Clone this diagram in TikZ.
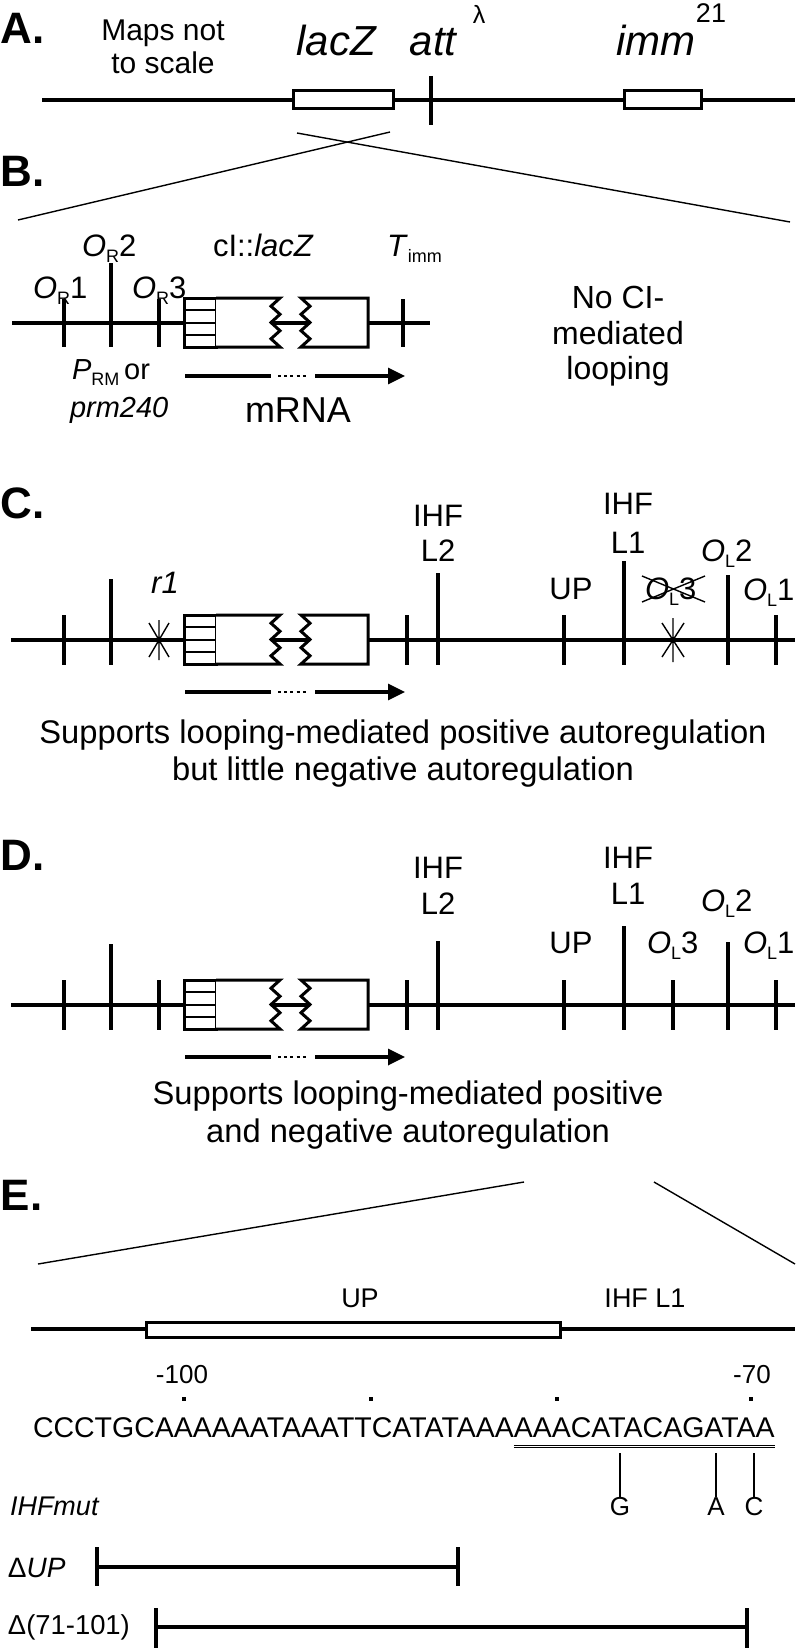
\documentclass[tikz,border=0pt]{standalone}
\usepackage{fontspec}
\setmainfont{Liberation Sans}
\usetikzlibrary{arrows.meta}
\newcommand\sbs[1]{\raisebox{-0.22em}{\fontsize{18}{18}\selectfont #1}}
\newcommand\opsite[2]{\textit{O}\sbs{#1}#2}
\begin{document}
\begin{tikzpicture}[x=1pt,y=-1pt,
  dna/.style={line width=3.2pt},
  tk/.style={line width=3.1pt},
  thinl/.style={line width=1.4pt},
  boxl/.style={line width=3pt, fill=white},
  dotl/.style={line width=2.6pt, dash pattern=on 3pt off 3.2pt},
  arr/.style={line width=3.3pt},
  lbl/.style={inner sep=0pt, outer sep=0pt, font=\fontsize{31}{36}\selectfont},
  capt/.style={inner sep=0pt, outer sep=0pt, anchor=base, font=\fontsize{32.7}{38}\selectfont},
  panel/.style={inner sep=0pt, outer sep=0pt, anchor=base west, font=\bfseries\fontsize{44}{44}\selectfont},
  big/.style={inner sep=0pt, outer sep=0pt, anchor=base, font=\itshape\fontsize{42}{42}\selectfont}
]
\useasboundingbox[fill=white] (0,0) rectangle (798,1648);

% ---------------- A ----------------
\node[panel] (pA) at (1,44) {A.};
\node[lbl, anchor=base, font=\fontsize{30}{34}\selectfont] (maps1) at (163,41) {Maps not};
\node[lbl, anchor=base, font=\fontsize{30}{34}\selectfont] (maps2) at (163,74) {to scale};
\node[big] (lacz) at (336,56) {lacZ};
\node[big] (att) at (433,56) {att};
\node[lbl, font=\fontsize{25}{25}\selectfont] (lam) at (479,14) {λ};
\node[big] (imm) at (656,56) {imm};
\node[lbl, anchor=base, font=\fontsize{27}{27}\selectfont] (s21) at (711,23) {21};
\coordinate (aL) at (42,100); \coordinate (aR) at (795,100);
\draw[dna] (aL) -- (aR);
\draw[boxl] (293,91) rectangle (393,109);
\draw[boxl] (624,91) rectangle (701,109);
\draw[tk] (431,76) -- (431,125);
\coordinate (z1a) at (297,133); \coordinate (z1b) at (790,222);
\coordinate (z2a) at (390,132); \coordinate (z2b) at (18,220);
\draw[thinl] (z1a) -- (z1b);
\draw[thinl] (z2a) -- (z2b);

% ---------------- B ----------------
\node[panel] (pB) at (1,186) {B.};
\begin{scope}[shift={(0,323)}]
  \draw[dna] (12,0) -- (430,0);
  \draw[tk] (64,-24) -- (64,24) (111,-60) -- (111,24) (159,-24) -- (159,24) (403,-24) -- (403,24);
  \draw[boxl] (184,-25) rectangle (216,24);
  \draw[line width=1.8pt] (184,-13) -- (216,-13) (184,0) -- (216,0) (184,12) -- (216,12);
  \draw[boxl] (216,-25) -- (280,-25) -- (271,-16.8) -- (280,-8.7) -- (271,-0.5) -- (280,7.7) -- (271,15.8) -- (280,24) -- (216,24);
  \draw[boxl] (368,-25) -- (301,-25) -- (310,-16.8) -- (301,-8.7) -- (310,-0.5) -- (301,7.7) -- (310,15.8) -- (301,24) -- (368,24) -- cycle;
  \draw[dotl] (282,0) -- (300,0);
  \draw[arr] (185,53) -- (271,53);
  \draw[dotl] (278,53) -- (308,53);
  \draw[arr, -{Triangle[length=17pt,width=16pt]}] (315,53) -- (405,53);
\end{scope}
\node[lbl, anchor=base west] (or1) at (33,298) {\opsite{R}{1}};
\node[lbl, anchor=base west] (or2) at (82,256) {\opsite{R}{2}};
\node[lbl, anchor=base west] (or3) at (132,298) {\opsite{R}{3}};
\node[lbl, anchor=base west] (cil) at (213,256) {cI::\textit{lacZ}};
\node[lbl, anchor=base west] (timm) at (387,256) {\textit{T}\sbs{imm}};
\node[lbl, anchor=base west, font=\fontsize{29}{34}\selectfont] (prm1) at (72,379) {\textit{P}\sbs{RM}\,or};
\node[lbl, anchor=base west, font=\itshape\fontsize{29}{34}\selectfont] (prm2) at (70,417) {prm240};
\node[lbl, anchor=base, font=\fontsize{36}{36}\selectfont] (mrna) at (298,422) {mRNA};
\node[capt, font=\fontsize{32}{36}\selectfont] (noci1) at (618,308) {No CI-};
\node[capt, font=\fontsize{32}{36}\selectfont] (noci2) at (618,344) {mediated};
\node[capt, font=\fontsize{32}{36}\selectfont] (noci3) at (618,379) {looping};

% ---------------- C ----------------
\node[panel] (pC) at (1,518) {C.};
\begin{scope}[shift={(0,640)}]
  \draw[dna] (11,0) -- (795,0);
  \draw[tk] (64,-25) -- (64,25) (111,-61) -- (111,25);
  \draw[thinl] (159,-20) -- (159,20) (149,-17) -- (169,17) (149,17) -- (169,-17);
  \draw[tk] (407,-25) -- (407,25) (438,-67) -- (438,25) (564,-25) -- (564,25) (624,-79) -- (624,25) (728,-65) -- (728,25) (776,-25) -- (776,25);
  \draw[thinl] (673,-22) -- (673,22) (662,-17) -- (684,17) (662,17) -- (684,-17);
  \draw[boxl] (184,-25) rectangle (216,24);
  \draw[line width=1.8pt] (184,-13) -- (216,-13) (184,0) -- (216,0) (184,12) -- (216,12);
  \draw[boxl] (216,-25) -- (280,-25) -- (271,-16.8) -- (280,-8.7) -- (271,-0.5) -- (280,7.7) -- (271,15.8) -- (280,24) -- (216,24);
  \draw[boxl] (368,-25) -- (301,-25) -- (310,-16.8) -- (301,-8.7) -- (310,-0.5) -- (301,7.7) -- (310,15.8) -- (301,24) -- (368,24) -- cycle;
  \draw[dotl] (282,0) -- (300,0);
  \draw[arr] (185,52) -- (271,52);
  \draw[dotl] (278,52) -- (308,52);
  \draw[arr, -{Triangle[length=17pt,width=16pt]}] (315,52) -- (405,52);
\end{scope}
\node[lbl, anchor=base, font=\itshape\fontsize{31}{36}\selectfont] (r1) at (165,593) {r1};
\node[lbl, anchor=base] (cihf2) at (438,526) {IHF};
\node[lbl, anchor=base] (cl2) at (438,561) {L2};
\node[lbl, anchor=base] (cup) at (571,599) {UP};
\node[lbl, anchor=base] (cihf1) at (628,514) {IHF};
\node[lbl, anchor=base] (cl1) at (628,553) {L1};
\node[lbl, anchor=base west] (col3) at (645,599) {\opsite{L}{3}};
\draw[thinl] (642,576) -- (705,602) (642,602) -- (705,576);
\node[lbl, anchor=base west] (col2) at (701,561) {\opsite{L}{2}};
\node[lbl, anchor=base west] (col1) at (743,600) {\opsite{L}{1}};
\node[capt] (capC1) at (403,743) {Supports looping-mediated positive autoregulation};
\node[capt] (capC2) at (403,780) {but little negative autoregulation};

% ---------------- D ----------------
\node[panel] (pD) at (1,870) {D.};
\begin{scope}[shift={(0,1005)}]
  \draw[dna] (11,0) -- (795,0);
  \draw[tk] (64,-25) -- (64,25) (111,-61) -- (111,25) (159,-25) -- (159,25);
  \draw[tk] (407,-25) -- (407,25) (438,-64) -- (438,25) (564,-25) -- (564,25) (624,-79) -- (624,25) (673,-25) -- (673,25) (728,-63) -- (728,25) (776,-25) -- (776,25);
  \draw[boxl] (184,-25) rectangle (216,24);
  \draw[line width=1.8pt] (184,-13) -- (216,-13) (184,0) -- (216,0) (184,12) -- (216,12);
  \draw[boxl] (216,-25) -- (280,-25) -- (271,-16.8) -- (280,-8.7) -- (271,-0.5) -- (280,7.7) -- (271,15.8) -- (280,24) -- (216,24);
  \draw[boxl] (368,-25) -- (301,-25) -- (310,-16.8) -- (301,-8.7) -- (310,-0.5) -- (301,7.7) -- (310,15.8) -- (301,24) -- (368,24) -- cycle;
  \draw[dotl] (282,0) -- (300,0);
  \draw[arr] (185,52) -- (271,52);
  \draw[dotl] (278,52) -- (308,52);
  \draw[arr, -{Triangle[length=17pt,width=16pt]}] (315,52) -- (405,52);
\end{scope}
\node[lbl, anchor=base] (dihf2) at (438,878) {IHF};
\node[lbl, anchor=base] (dl2) at (438,914) {L2};
\node[lbl, anchor=base] (dup) at (571,953) {UP};
\node[lbl, anchor=base] (dihf1) at (628,868) {IHF};
\node[lbl, anchor=base] (dl1) at (628,904) {L1};
\node[lbl, anchor=base west] (dol3) at (647,953) {\opsite{L}{3}};
\node[lbl, anchor=base west] (dol2) at (701,911) {\opsite{L}{2}};
\node[lbl, anchor=base west] (dol1) at (743,953) {\opsite{L}{1}};
\node[capt] (capD1) at (408,1104) {Supports looping-mediated positive};
\node[capt] (capD2) at (408,1142) {and negative autoregulation};

% ---------------- E ----------------
\node[panel] (pE) at (1,1210) {E.};
\coordinate (e1a) at (38,1264); \coordinate (e1b) at (524,1182);
\coordinate (e2a) at (654,1182); \coordinate (e2b) at (795,1264);
\draw[thinl] (e1a) -- (e1b);
\draw[thinl] (e2a) -- (e2b);
\node[lbl, anchor=base, font=\fontsize{27}{30}\selectfont] (eup) at (360,1307) {UP};
\node[lbl, anchor=base, font=\fontsize{27}{30}\selectfont] (eihf) at (645,1307) {IHF L1};
\draw[dna] (31,1329) -- (795,1329);
\draw[boxl] (146,1322) rectangle (560,1337);
\node[lbl, anchor=base, font=\fontsize{26}{30}\selectfont] (m100) at (182,1383) {-100};
\node[lbl, anchor=base, font=\fontsize{26}{30}\selectfont] (m70) at (752,1383) {-70};
\foreach \x in {184,371,557,751} \fill (\x-1.7,1397.3) rectangle (\x+1.7,1400.7);
\node[lbl, anchor=base west, font=\fontsize{28.5}{30}\selectfont] (seqa) at (33,1437) {CCCTGCAAAAAATAAATTCATATAAA};
\node[lbl, anchor=base west, font=\fontsize{28.5}{30}\selectfont] (seqb) at (seqa.base east) {AAACATACAGATAA};
\draw[line width=0.9pt] ([yshift=-8pt]seqb.base west) -- ([yshift=-8pt]seqb.base east);
\draw[line width=0.9pt] ([yshift=-10.8pt]seqb.base west) -- ([yshift=-10.8pt]seqb.base east);
\node[lbl, anchor=base, font=\fontsize{26}{30}\selectfont] (mg) at (620,1515) {G};
\node[lbl, anchor=base, font=\fontsize{26}{30}\selectfont] (ma) at (716,1515) {A};
\node[lbl, anchor=base, font=\fontsize{26}{30}\selectfont] (mc) at (754,1515) {C};
\draw[thinl] (620,1453) -- (mg.north);
\draw[thinl] (716,1453) -- (ma.north);
\draw[thinl] (754,1453) -- (mc.north);
\node[lbl, anchor=base west, font=\itshape\fontsize{27}{30}\selectfont] (ihfmut) at (10,1515) {IHFmut};
\node[lbl, anchor=base west, font=\fontsize{28}{30}\selectfont] (dup2) at (8,1577) {Δ\textit{UP}};
\draw[tk] (97,1547) -- (97,1586) (458,1547) -- (458,1586);
\draw[tk] (97,1567) -- (458,1567);
\node[lbl, anchor=base west, font=\fontsize{27.4}{30}\selectfont] (d71) at (8,1634) {Δ(71-101)};
\draw[tk] (156,1608) -- (156,1648) (747,1608) -- (747,1648);
\draw[tk] (156,1627) -- (747,1627);
\end{tikzpicture}
\end{document}
